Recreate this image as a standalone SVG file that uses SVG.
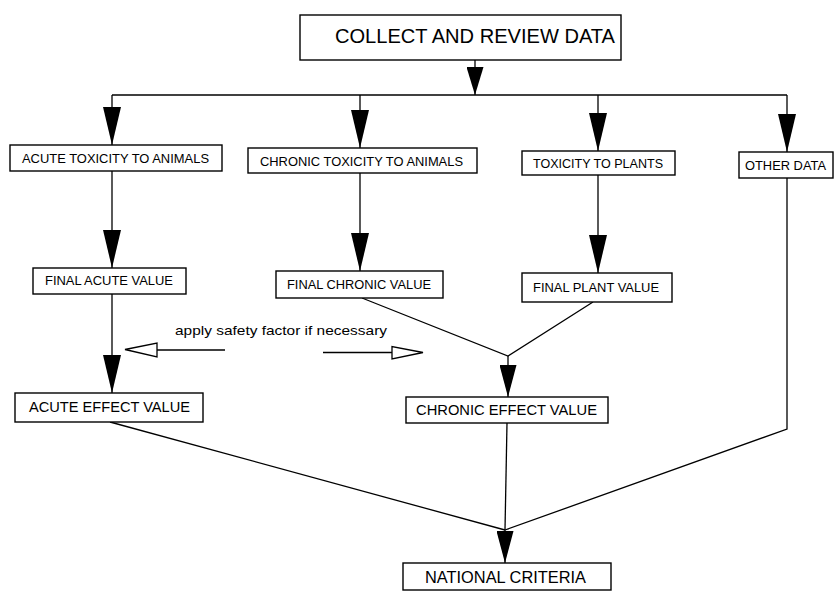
<svg xmlns="http://www.w3.org/2000/svg" width="836" height="596" viewBox="0 0 836 596">
<style>
.box{fill:#fff;stroke:#000;stroke-width:1.4}
.ln{fill:none;stroke:#000;stroke-width:1.3}
.t{font-family:"Liberation Sans",Arial,sans-serif;fill:#000}
.s{font-size:13px}
.open{fill:#fff;stroke:#000;stroke-width:1.3}
</style>
<defs>
<marker id="big" markerUnits="userSpaceOnUse" markerWidth="38" markerHeight="18" refX="38" refY="9" orient="auto"><path d="M0,0 L38,9 L0,18 Z" fill="#000"/></marker>
<marker id="mid" markerUnits="userSpaceOnUse" markerWidth="32" markerHeight="17" refX="32" refY="8.5" orient="auto"><path d="M0,0 L32,8.5 L0,17 Z" fill="#000"/></marker>
<marker id="sm" markerUnits="userSpaceOnUse" markerWidth="28" markerHeight="17" refX="28" refY="8.5" orient="auto"><path d="M0,0 L28,8.5 L0,17 Z" fill="#000"/></marker>
</defs>
<rect width="836" height="596" fill="#fff"/>
<g id="connectors">
<path class="ln" d="M475,60 V95" marker-end="url(#sm)"/>
<path class="ln" d="M112,95 H787"/>
<path class="ln" d="M112,95 V145" marker-end="url(#big)"/>
<path class="ln" d="M360,95 V148" marker-end="url(#big)"/>
<path class="ln" d="M598,95 V151" marker-end="url(#big)"/>
<path class="ln" d="M787,95 V152" marker-end="url(#big)"/>
<path class="ln" d="M112,171 V268" marker-end="url(#big)"/>
<path class="ln" d="M360,173 V271" marker-end="url(#big)"/>
<path class="ln" d="M598,175 V273" marker-end="url(#big)"/>
<path class="ln" d="M112,294 V393" marker-end="url(#big)"/>
<path class="ln" d="M362,298 L508,356 L593,302"/>
<path class="ln" d="M508,356 V397" marker-end="url(#mid)"/>
<path class="ln" d="M787,178 V429 L505,530"/>
<path class="ln" d="M110,422 L505,530"/>
<path class="ln" d="M507,423 L505,530"/>
<path class="ln" d="M505,530 V563" marker-end="url(#mid)"/>
<path class="ln" d="M157,350 H225"/>
<path class="open" d="M125,349.5 L157,343 L157,357 Z"/>
<path class="ln" d="M323,352.5 H392"/>
<path class="open" d="M423,352.5 L392,346.5 L392,359 Z"/>
</g>
<g id="collect">
<rect class="box" x="300" y="15" width="321" height="45"/>
<text class="t" x="335" y="43" font-size="21" textLength="280" lengthAdjust="spacingAndGlyphs">COLLECT AND REVIEW DATA</text>
</g>
<g id="acute-tox">
<rect class="box" x="10" y="145" width="212" height="26"/>
<text class="t s" x="22" y="163" textLength="187" lengthAdjust="spacingAndGlyphs">ACUTE TOXICITY TO ANIMALS</text>
</g>
<g id="chronic-tox">
<rect class="box" x="248" y="148" width="229" height="25"/>
<text class="t s" x="260" y="166" textLength="203" lengthAdjust="spacingAndGlyphs">CHRONIC TOXICITY TO ANIMALS</text>
</g>
<g id="plant-tox">
<rect class="box" x="522" y="151" width="153" height="24"/>
<text class="t s" x="533" y="168" textLength="130" lengthAdjust="spacingAndGlyphs">TOXICITY TO PLANTS</text>
</g>
<g id="other">
<rect class="box" x="739" y="152" width="94" height="26"/>
<text class="t s" x="745" y="170" textLength="81" lengthAdjust="spacingAndGlyphs">OTHER DATA</text>
</g>
<g id="final-acute">
<rect class="box" x="33" y="268" width="153" height="26"/>
<text class="t" x="45" y="285" font-size="12.5" textLength="128" lengthAdjust="spacingAndGlyphs">FINAL ACUTE VALUE</text>
</g>
<g id="final-chronic">
<rect class="box" x="276" y="271" width="167" height="27"/>
<text class="t" x="287" y="289" font-size="12.5" textLength="144" lengthAdjust="spacingAndGlyphs">FINAL CHRONIC VALUE</text>
</g>
<g id="final-plant">
<rect class="box" x="522" y="273" width="150" height="29"/>
<text class="t" x="533" y="292" font-size="13" textLength="126" lengthAdjust="spacingAndGlyphs">FINAL PLANT VALUE</text>
</g>
<g id="note">
<text class="t" x="175" y="335" font-size="13.5" textLength="212" lengthAdjust="spacingAndGlyphs">apply safety factor if necessary</text>
</g>
<g id="acute-effect">
<rect class="box" x="15" y="393" width="188" height="29"/>
<text class="t" x="29" y="412" font-size="14.5" textLength="161" lengthAdjust="spacingAndGlyphs">ACUTE EFFECT VALUE</text>
</g>
<g id="chronic-effect">
<rect class="box" x="406" y="397" width="202" height="26"/>
<text class="t" x="416" y="415" font-size="14.5" textLength="181" lengthAdjust="spacingAndGlyphs">CHRONIC EFFECT VALUE</text>
</g>
<g id="national">
<rect class="box" x="403" y="563" width="208" height="27"/>
<text class="t" x="425" y="583" font-size="17" textLength="161" lengthAdjust="spacingAndGlyphs">NATIONAL CRITERIA</text>
</g>
</svg>
